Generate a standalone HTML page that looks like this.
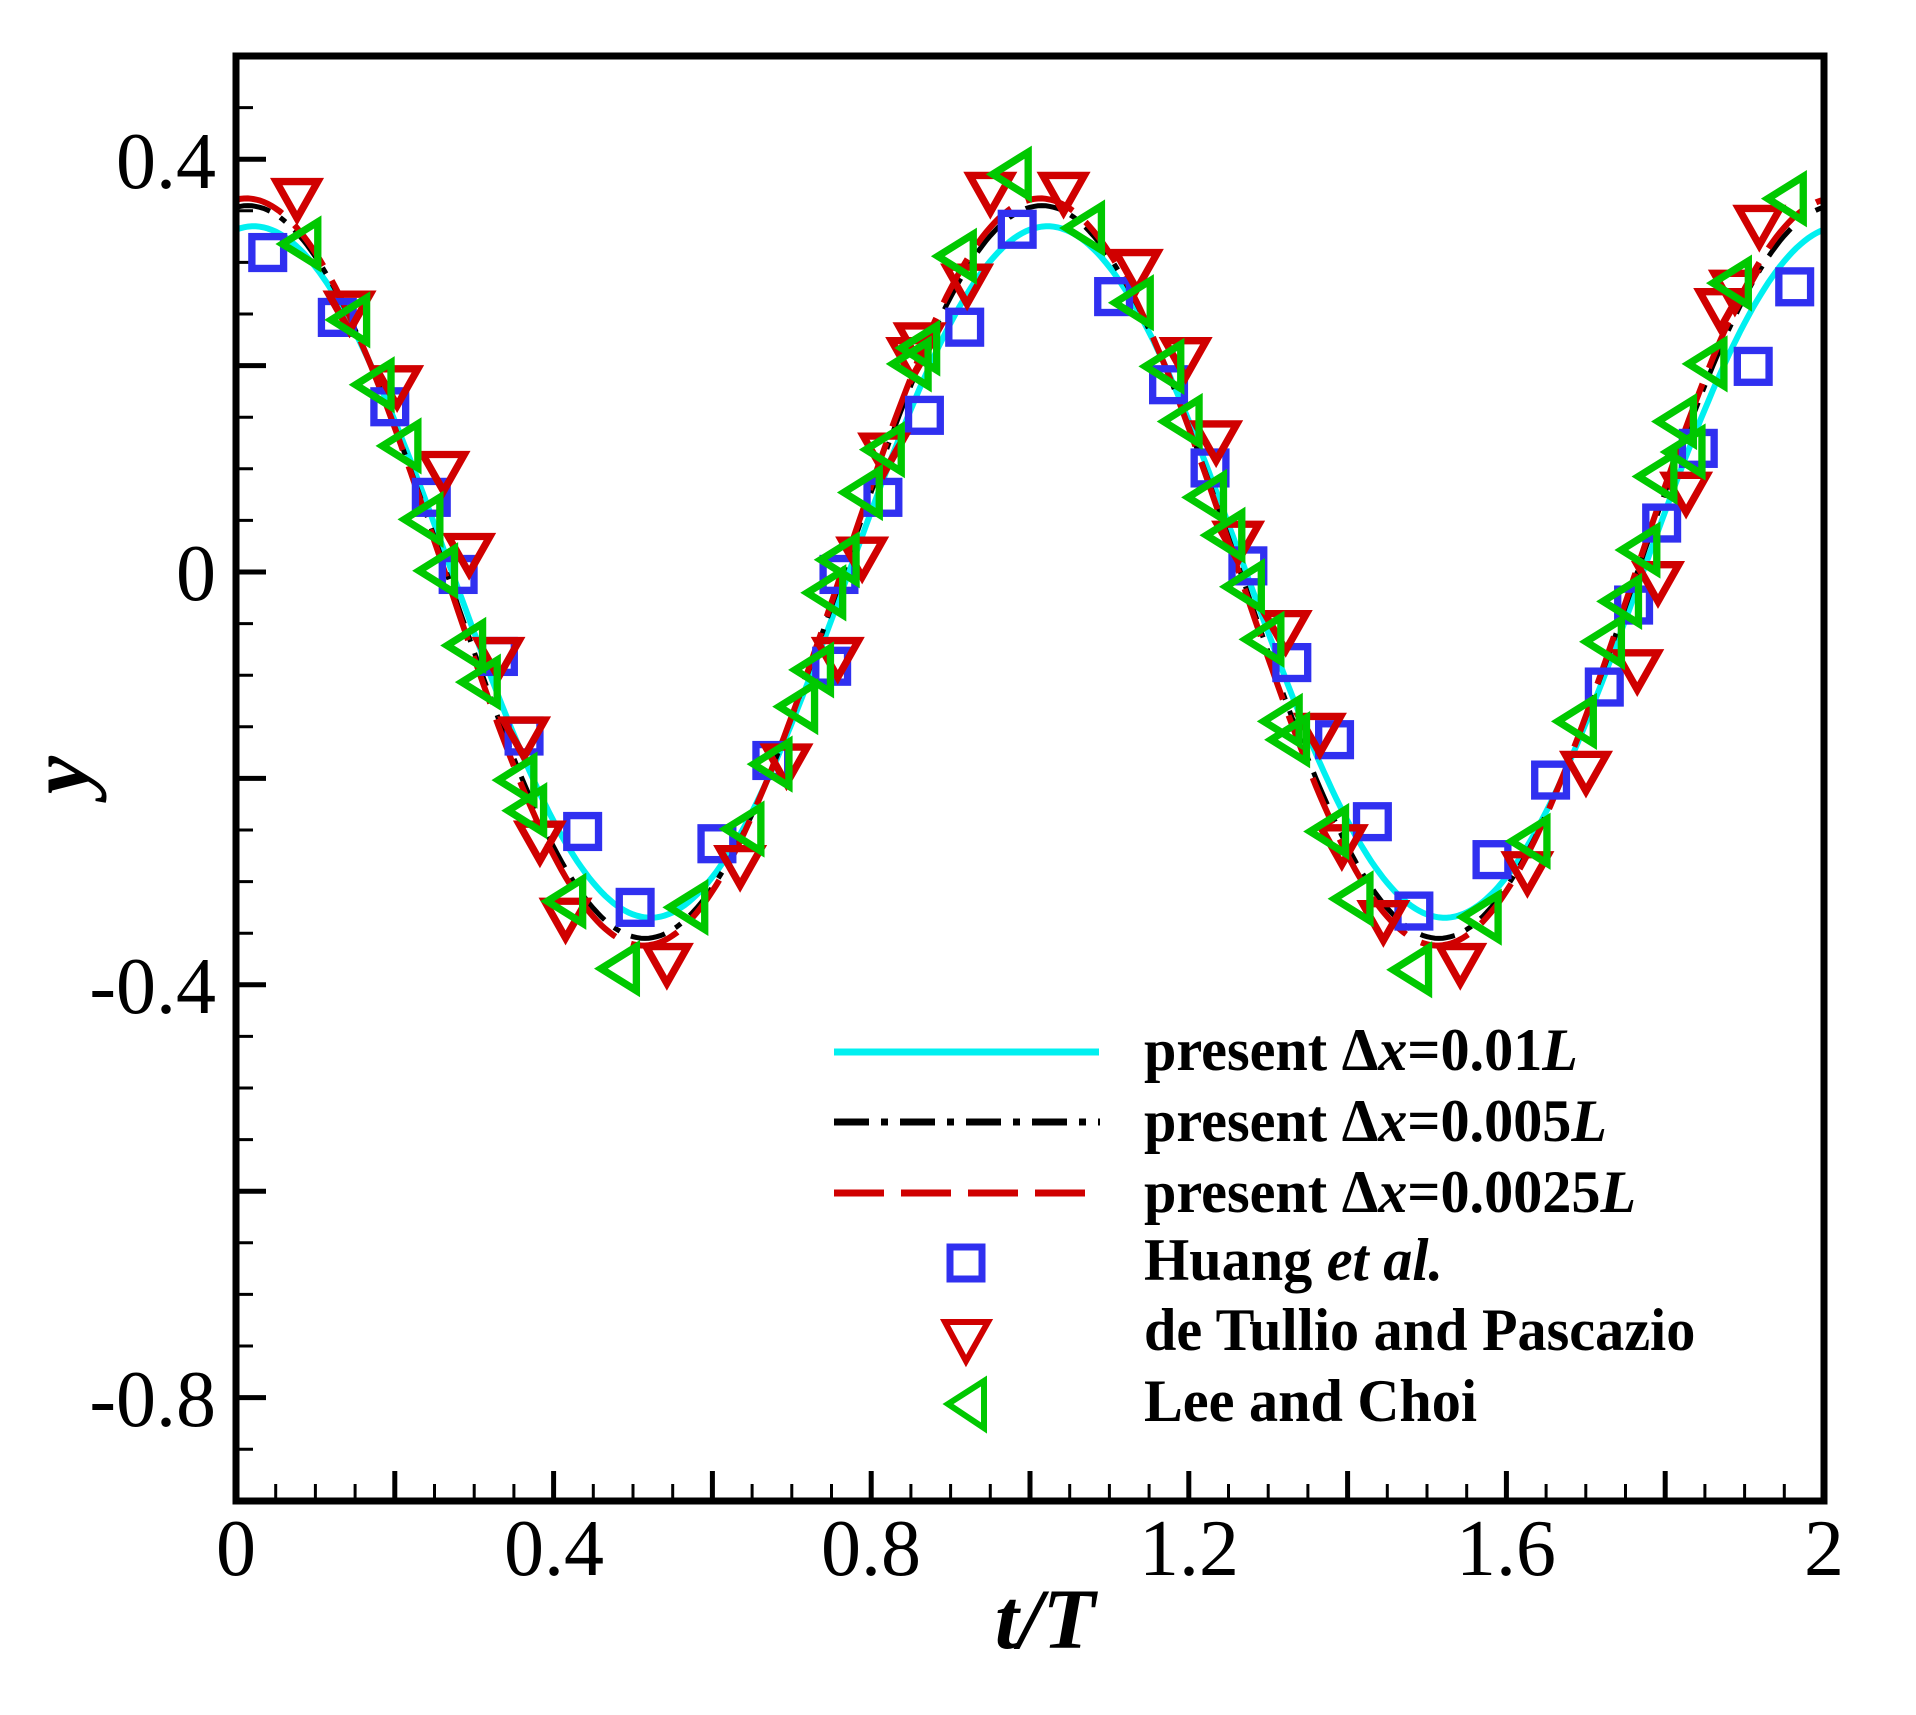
<!DOCTYPE html>
<html><head><meta charset="utf-8">
<style>
html,body{margin:0;padding:0;background:#fff;}
svg{display:block;}
text{font-family:"Liberation Serif",serif;}
</style></head>
<body>
<svg id="s" width="1916" height="1715" viewBox="0 0 1916 1715" xmlns="http://www.w3.org/2000/svg">
<rect width="1916" height="1715" fill="#fff"/>
<defs>
<clipPath id="cp"><rect x="236" y="56" width="1588" height="1445"/></clipPath>
</defs>
<g id="ticks" stroke="#000"></g>
<g clip-path="url(#cp)">
<path id="cyan" fill="none" stroke="#00f0f0" stroke-width="6"/>
<path id="black" fill="none" stroke="#000" stroke-width="5" stroke-dasharray="35 12 7 12"/>
<path id="red" fill="none" stroke="#d00000" stroke-width="6" stroke-dasharray="50 17"/>
</g>
<g id="mk" transform="translate(236,572) scale(1.2206,1.224) translate(-192,-468)" fill="none" stroke-width="6"></g>
<rect x="236" y="56" width="1588" height="1445" fill="none" stroke="#000" stroke-width="7"/>
<g font-size="80" text-anchor="end">
<text x="216" y="188">0.4</text>
<text x="216" y="600">0</text>
<text x="216" y="1013">-0.4</text>
<text x="216" y="1426">-0.8</text>
</g>
<g font-size="80" text-anchor="middle">
<text x="236" y="1575">0</text>
<text x="554" y="1575">0.4</text>
<text x="871" y="1575">0.8</text>
<text x="1189" y="1575">1.2</text>
<text x="1506" y="1575">1.6</text>
<text x="1824" y="1575">2</text>
</g>
<text x="1045" y="1648" font-size="86" font-weight="bold" font-style="italic" text-anchor="middle">t/T</text>
<text transform="translate(88,775) rotate(-90)" font-size="86" font-weight="bold" font-style="italic" text-anchor="middle">y</text>
<!-- legend -->
<line x1="834" y1="1052" x2="1099" y2="1052" stroke="#00f0f0" stroke-width="7"/>
<line x1="834" y1="1122" x2="1100" y2="1122" stroke="#000" stroke-width="7" stroke-dasharray="35 12 7 12"/>
<line x1="834" y1="1193" x2="1100" y2="1193" stroke="#d00000" stroke-width="7" stroke-dasharray="50 17"/>
<rect x="950" y="1247" width="32" height="32" fill="none" stroke="#3030f0" stroke-width="7"/>
<polygon points="945,1322 988,1322 966,1361" fill="none" stroke="#d00000" stroke-width="6"/>
<polygon points="984,1381 984,1428 948,1404" fill="none" stroke="#00c800" stroke-width="6"/>
<g font-size="60" font-weight="bold" transform="translate(1144,0) scale(0.97,1)">
<text x="0" y="1070">present Δ<tspan font-style="italic">x</tspan>=0.01<tspan font-style="italic">L</tspan></text>
<text x="0" y="1141">present Δ<tspan font-style="italic">x</tspan>=0.005<tspan font-style="italic">L</tspan></text>
<text x="0" y="1212">present Δ<tspan font-style="italic">x</tspan>=0.0025<tspan font-style="italic">L</tspan></text>
<text x="0" y="1280">Huang <tspan font-style="italic">et al.</tspan></text>
<text x="0" y="1350">de Tullio and Pascazio</text>
<text x="0" y="1421">Lee and Choi</text>
</g>
</svg>
<script>
(function(){
var ns="http://www.w3.org/2000/svg";
function X(t){return 236+t*794;} function Y(v){return 572-v*1032;}
var tk=document.getElementById('ticks');
function ln(x1,y1,x2,y2,w){var l=document.createElementNS(ns,'line');l.setAttribute('x1',x1);l.setAttribute('y1',y1);l.setAttribute('x2',x2);l.setAttribute('y2',y2);l.setAttribute('stroke-width',w);tk.appendChild(l);}
for(var i=-18;i<=10;i++){var v=i*0.05,y=Y(v);var maj=(i%4===0);ln(236,y,236+(maj?30:17),y,maj?5:3);}
for(var i=0;i<=40;i++){var t=i*0.05,x=X(t);var maj=(i%4===0);ln(x,1501,x,1501-(maj?30:17),maj?5:3);}
function curve(id,A,ph){var d='';for(var k=0;k<=400;k++){var t=k/200;var v=A*Math.cos(2*Math.PI*(t-ph));d+=(k?'L':'M')+X(t).toFixed(1)+' '+Y(v).toFixed(1);}document.getElementById(id).setAttribute('d',d);}
curve('cyan',0.335,0.022);curve('black',0.355,0.015);curve('red',0.362,0.013);
var mk=document.getElementById('mk');
var sq=[[218,207],[275,260],[318,333],[352,407],[374,470],[407,537],[428,602],[476,680],[519,742],[586,690],[631,622],[680,545],[686,470],[722,407],[756,340],[789,268],[832,188],[911,243],[956,315],[990,383],[1021,463],[1057,542],[1092,605],[1123,672],[1157,745],[1221,703],[1269,638],[1313,562],[1337,495],[1360,428],[1390,367],[1435,300],[1469,235]];
var rd=[[242,160],[285,252],[324,313],[362,383],[383,450],[407,535],[428,600],[441,685],[462,748],[545,785],[605,705],[643,622],[685,535],[705,453],[723,368],[746,290],[752,278],[791,230],[810,155],[870,155],[930,218],[970,290],[995,358],[1013,440],[1052,513],[1080,597],[1098,688],[1132,750],[1195,785],[1250,710],[1298,628],[1340,545],[1357,473],[1380,400],[1408,250],[1420,235],[1440,182]];
var gr=[[248,200],[288,262],[308,315],[330,365],[348,425],[360,467],[383,528],[395,558],[425,638],[433,663],[465,737],[509,792],[565,742],[611,678],[634,625],[655,578],[668,548],[678,485],[689,458],[708,403],[726,368],[748,298],[755,285],[785,210],[830,143],[890,187],[930,248],[955,300],[970,345],[990,407],[1005,438],[1021,480],[1037,523],[1052,590],[1058,605],[1090,680],[1110,735],[1158,793],[1215,750],[1255,688],[1293,590],[1316,525],[1330,492],[1345,450],[1359,390],[1375,345],[1382,370],[1400,298],[1420,232],[1465,163]];
sq.forEach(function(p){var r=document.createElementNS(ns,'rect');r.setAttribute('x',p[0]-13);r.setAttribute('y',p[1]-13);r.setAttribute('width',26);r.setAttribute('height',26);r.setAttribute('stroke','#3030f0');mk.appendChild(r);});
rd.forEach(function(p){var g=document.createElementNS(ns,'polygon');var x=p[0],y=p[1];g.setAttribute('points',(x-17)+','+(y-11)+' '+(x+17)+','+(y-11)+' '+x+','+(y+19));g.setAttribute('stroke','#d00000');mk.appendChild(g);});
gr.forEach(function(p){var g=document.createElementNS(ns,'polygon');var x=p[0],y=p[1];g.setAttribute('points',(x+11)+','+(y-18)+' '+(x+11)+','+(y+18)+' '+(x-18)+','+y);g.setAttribute('stroke','#00c800');mk.appendChild(g);});
})();
</script>
</body></html>
